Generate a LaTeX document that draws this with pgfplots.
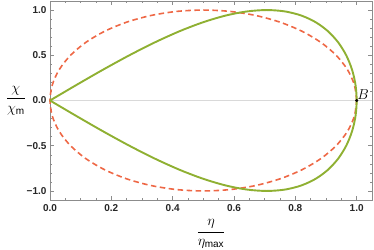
\documentclass[border=0pt]{standalone}
\usepackage{fontspec}
\setmainfont{Liberation Sans}
\usepackage{pgfplots}
\pgfplotsset{compat=1.18}
\definecolor{mgreen}{RGB}{143,176,50}
\definecolor{morange}{RGB}{238,104,70}
\definecolor{frm}{RGB}{140,140,140}
\begin{document}
\begin{tikzpicture}
\useasboundingbox (-50pt,-49pt) rectangle (324pt,200pt);
\begin{axis}[
  at={(0,0)}, anchor=south west,
  scale only axis, width=322pt, height=199pt,
  xmin=0, xmax=1.05, ymin=-1.1, ymax=1.1,
  axis line style={frm},
  xtick={0,0.2,0.4,0.6,0.8,1.0},
  xticklabels={0.0,0.2,0.4,0.6,0.8,1.0},
  ytick={-1,-0.5,0,0.5,1},
  yticklabels={−1.0,−0.5,0.0,0.5,1.0},
  minor x tick num=3, minor y tick num=4,
  xtick pos=both, ytick pos=both,
  tick align=inside,
  major tick length=4pt, minor tick length=2.2pt,
  every tick/.style={frm, line width=0.5pt},
  tick label style={font=\bfseries\fontsize{10}{10}\selectfont, text=black!85},
  xticklabel style={yshift=-1pt},
  xlabel={$\displaystyle\frac{\eta}{\eta_{\mathrm{max}}}$},
  xlabel style={font=\Large, at={(axis description cs:0.5,0)}, anchor=center, yshift=-34pt},
  ylabel={$\displaystyle\frac{\chi}{\chi_{\mathrm{m}}}$},
  ylabel style={font=\Large, at={(axis description cs:-0.106,0.5)}, anchor=center, rotate=-90},
  clip=false,
]
\addplot[gray!30, line width=0.9pt] coordinates {(0,0) (1.05,0)};
\addplot[morange, line width=1.6pt, dash pattern=on 5.5pt off 3.5pt, smooth] coordinates {
(1,0) (0.99240,0.17365) (0.96985,0.34202) (0.93301,0.5) (0.88302,0.64279) (0.82139,0.76604)
(0.75,0.86603) (0.67101,0.93969) (0.58682,0.98481) (0.5,1) (0.41318,0.98481) (0.32899,0.93969)
(0.25,0.86603) (0.17861,0.76604) (0.11698,0.64279) (0.06699,0.5) (0.03015,0.34202) (0.00760,0.17365)
(0,0) (0.00760,-0.17365) (0.03015,-0.34202) (0.06699,-0.5) (0.11698,-0.64279) (0.17861,-0.76604)
(0.25,-0.86603) (0.32899,-0.93969) (0.41318,-0.98481) (0.5,-1) (0.58682,-0.98481) (0.67101,-0.93969)
(0.75,-0.86603) (0.82139,-0.76604) (0.88302,-0.64279) (0.93301,-0.5) (0.96985,-0.34202) (0.99240,-0.17365) (1,0)};
\addplot[mgreen, line width=1.9pt, smooth] coordinates {
(0,0) (0.08716,0.17365) (0.17365,0.34202) (0.25882,0.5) (0.34202,0.64279) (0.42262,0.76604)
(0.5,0.86603) (0.57358,0.93969) (0.64279,0.98481) (0.70711,1) (0.76604,0.98481) (0.81915,0.93969)
(0.86603,0.86603) (0.90631,0.76604) (0.93969,0.64279) (0.96593,0.5) (0.98481,0.34202) (0.99619,0.17365)
(1,0) (0.99619,-0.17365) (0.98481,-0.34202) (0.96593,-0.5) (0.93969,-0.64279) (0.90631,-0.76604)
(0.86603,-0.86603) (0.81915,-0.93969) (0.76604,-0.98481) (0.70711,-1) (0.64279,-0.98481) (0.57358,-0.93969)
(0.5,-0.86603) (0.42262,-0.76604) (0.34202,-0.64279) (0.25882,-0.5) (0.17365,-0.34202) (0.08716,-0.17365) (0,0)};
\addplot[only marks, mark=*, mark size=1.3pt, black] coordinates {(1,0)};
\node[anchor=south west, inner sep=0.5pt, font=\Large] at (axis cs:1,0) {$B$};
\end{axis}
\end{tikzpicture}
\end{document}
